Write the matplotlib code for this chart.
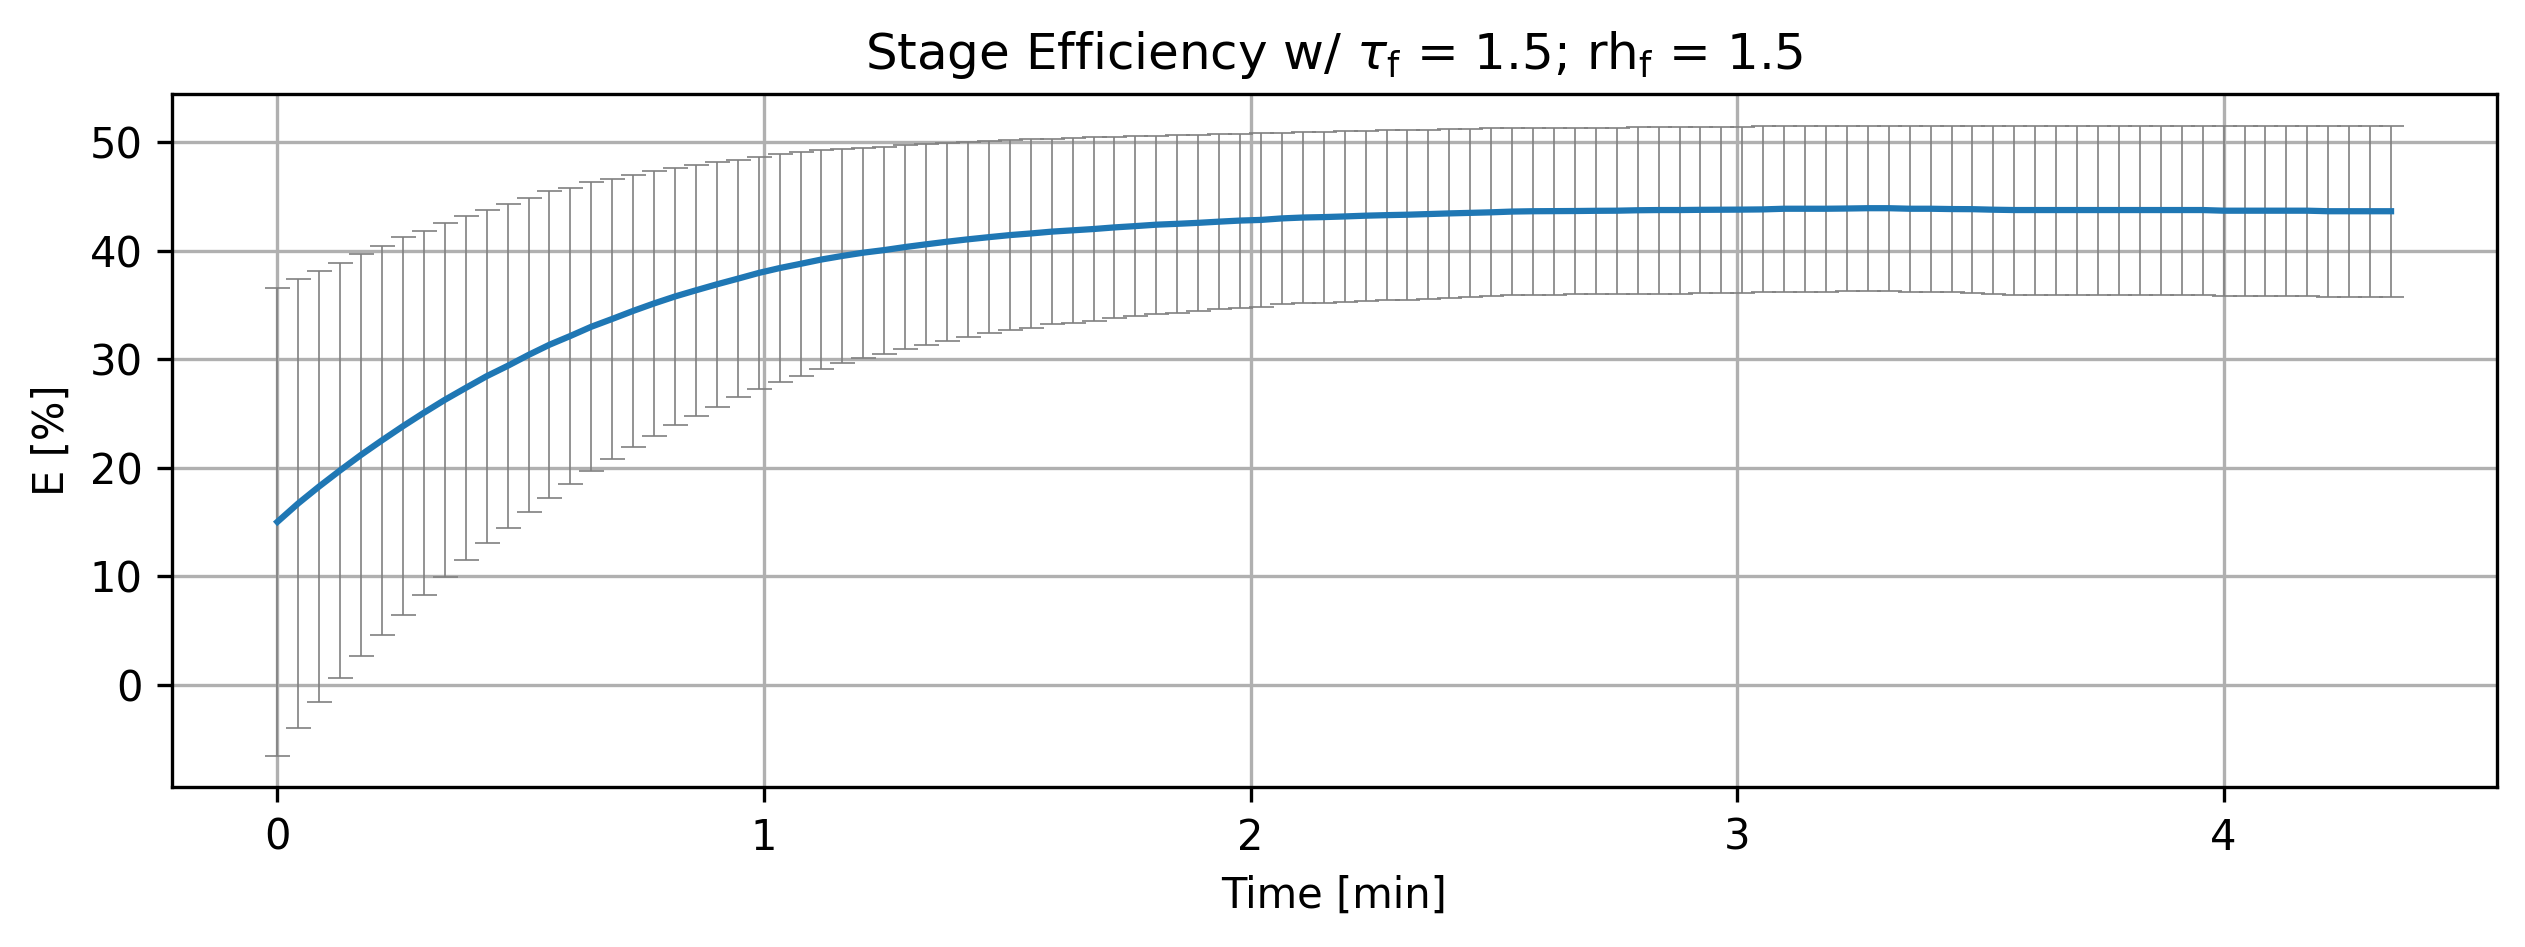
import numpy as np
import matplotlib
matplotlib.use("Agg")
import matplotlib.pyplot as plt

# ---- data ----
n_points = 102
step_min = 1 / 23.25  # spacing between samples in minutes
time_min = np.arange(n_points) * step_min

efficiency_mean = [
    15.00, 16.71, 18.27, 19.75, 21.18, 22.52, 23.82, 25.06, 26.25, 27.35,
    28.43, 29.38, 30.39, 31.33, 32.14, 32.99, 33.71, 34.45, 35.14, 35.78,
    36.35, 36.90, 37.42, 37.95, 38.40, 38.79, 39.19, 39.52, 39.82, 40.06,
    40.34, 40.59, 40.83, 41.05, 41.25, 41.44, 41.59, 41.76, 41.88, 42.00,
    42.15, 42.27, 42.40, 42.48, 42.57, 42.68, 42.78, 42.84, 42.98, 43.06,
    43.10, 43.16, 43.23, 43.28, 43.32, 43.38, 43.44, 43.49, 43.54, 43.61,
    43.64, 43.65, 43.66, 43.68, 43.69, 43.73, 43.75, 43.75, 43.77, 43.78,
    43.79, 43.81, 43.87, 43.87, 43.87, 43.89, 43.92, 43.92, 43.87, 43.87,
    43.84, 43.83, 43.78, 43.75, 43.75, 43.75, 43.75, 43.75, 43.75, 43.75,
    43.75, 43.75, 43.75, 43.69, 43.69, 43.69, 43.69, 43.69, 43.64, 43.64,
    43.64, 43.64,
]

efficiency_err = [
    21.57, 20.70, 19.87, 19.14, 18.54, 17.94, 17.40, 16.80, 16.33, 15.86,
    15.37, 14.94, 14.48, 14.13, 13.65, 13.30, 12.91, 12.55, 12.22, 11.85,
    11.57, 11.30, 10.95, 10.70, 10.49, 10.30, 10.05, 9.83, 9.67, 9.54,
    9.39, 9.27, 9.11, 8.99, 8.88, 8.74, 8.67, 8.56, 8.50, 8.44,
    8.34, 8.28, 8.22, 8.18, 8.12, 8.07, 8.02, 7.99, 7.91, 7.90,
    7.88, 7.88, 7.85, 7.84, 7.82, 7.79, 7.76, 7.74, 7.73, 7.71,
    7.68, 7.69, 7.67, 7.66, 7.64, 7.68, 7.70, 7.70, 7.66, 7.66,
    7.65, 7.65, 7.67, 7.67, 7.67, 7.64, 7.62, 7.62, 7.66, 7.66,
    7.69, 7.71, 7.76, 7.79, 7.79, 7.79, 7.79, 7.79, 7.79, 7.79,
    7.79, 7.79, 7.79, 7.85, 7.85, 7.85, 7.85, 7.85, 7.89, 7.89,
    7.89, 7.89,
]

title_text = r"Stage Efficiency w/ $\tau_\mathrm{f}$ = 1.5; rh$_\mathrm{f}$ = 1.5"
x_label = "Time [min]"
y_label = "E [%]"

# ---- figure ----
fig = plt.figure(figsize=(2525 / 300, 947 / 300), dpi=300)
ax = fig.add_axes([0.0680, 0.1686, 0.9208, 0.7321])

ax.errorbar(time_min, efficiency_mean, yerr=efficiency_err,
            fmt="none", ecolor="gray", elinewidth=0.4, capsize=3,
            capthick=0.4, zorder=2)
ax.plot(time_min, efficiency_mean, color="#1f77b4", linewidth=1.5, zorder=3)

ax.set_title(title_text)
ax.set_xlabel(x_label)
ax.set_ylabel(y_label)
ax.grid(True)
ax.set_axisbelow(True)

fig.savefig("out.png", dpi=300)
